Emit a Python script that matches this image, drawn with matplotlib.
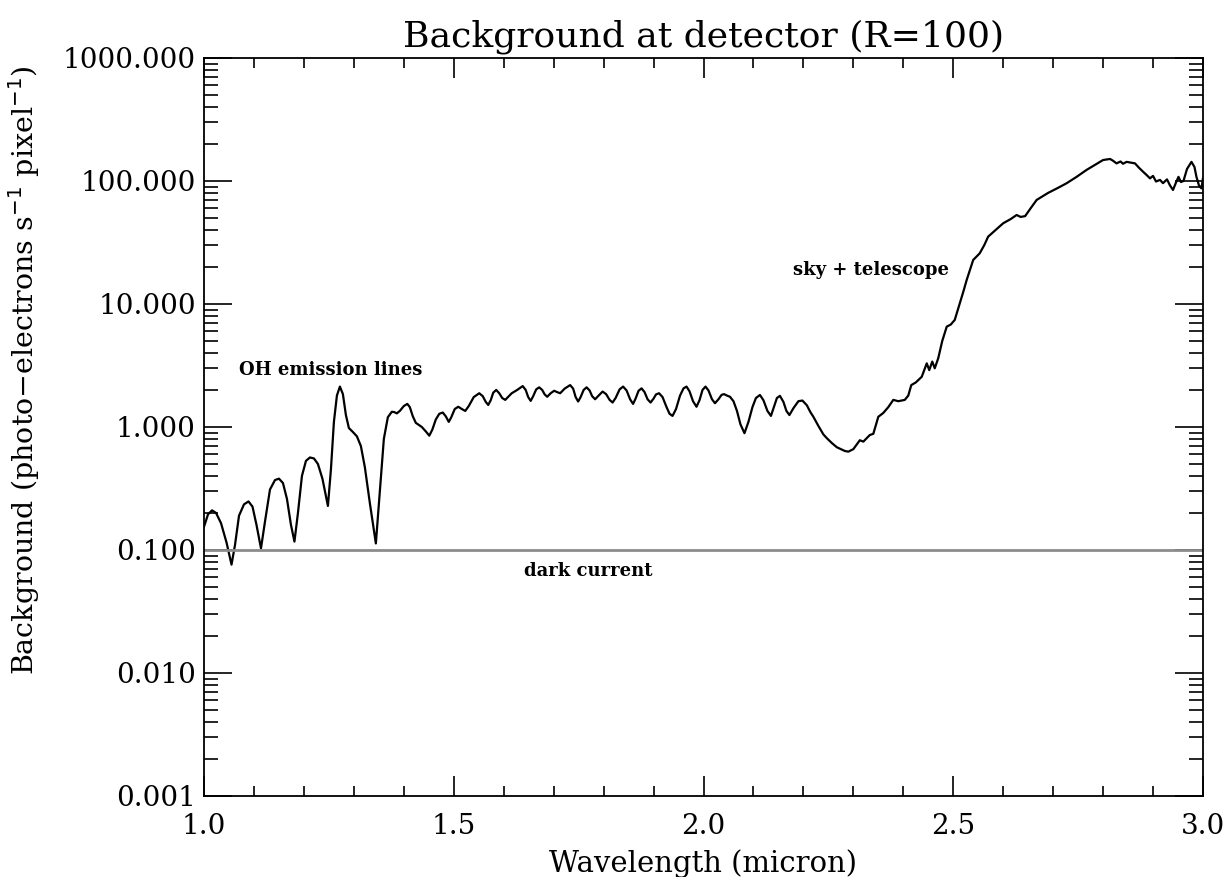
import numpy as np
import matplotlib
matplotlib.use("Agg")
import matplotlib.pyplot as plt
from matplotlib.ticker import FixedLocator, LogLocator, MultipleLocator, NullFormatter

# wavelength (micron) and background (photo-electrons / s / pixel)
wave = [1.000, 1.008, 1.016, 1.024, 1.034, 1.045, 1.055, 1.062, 1.070, 1.080,
        1.089, 1.097, 1.105, 1.114, 1.122, 1.132, 1.142, 1.150, 1.158, 1.166,
        1.174, 1.181, 1.188, 1.196, 1.204, 1.212, 1.220, 1.228, 1.237, 1.248,
        1.254, 1.260, 1.266, 1.272, 1.278, 1.284, 1.290, 1.298, 1.306, 1.314,
        1.322, 1.332, 1.344, 1.352, 1.360, 1.368, 1.376, 1.381, 1.386, 1.392,
        1.400, 1.407, 1.412, 1.418, 1.424, 1.430, 1.436, 1.444, 1.451, 1.457,
        1.464, 1.471, 1.478, 1.484, 1.490, 1.495, 1.502, 1.509, 1.516, 1.523,
        1.530, 1.540, 1.551, 1.558, 1.564, 1.569, 1.574, 1.579, 1.585, 1.591,
        1.597, 1.603, 1.609, 1.616, 1.627, 1.638, 1.644, 1.649, 1.654, 1.659,
        1.665, 1.671, 1.677, 1.682, 1.687, 1.694, 1.701, 1.707, 1.713, 1.722,
        1.733, 1.739, 1.744, 1.749, 1.754, 1.760, 1.766, 1.772, 1.777, 1.783,
        1.790, 1.798, 1.805, 1.812, 1.818, 1.824, 1.832, 1.839, 1.846, 1.853,
        1.859, 1.864, 1.870, 1.876, 1.882, 1.888, 1.894, 1.900, 1.905, 1.911,
        1.918, 1.926, 1.932, 1.938, 1.945, 1.953, 1.960, 1.966, 1.972, 1.979,
        1.986, 1.992, 1.998, 2.004, 2.010, 2.017, 2.023, 2.030, 2.036, 2.041,
        2.047, 2.053, 2.060, 2.067, 2.074, 2.082, 2.090, 2.098, 2.105, 2.113,
        2.120, 2.128, 2.135, 2.141, 2.147, 2.153, 2.160, 2.166, 2.172, 2.180,
        2.190, 2.198, 2.207, 2.214, 2.220, 2.230, 2.240, 2.247, 2.257, 2.267,
        2.275, 2.283, 2.290, 2.300, 2.313, 2.320, 2.333, 2.340, 2.350, 2.360,
        2.370, 2.380, 2.390, 2.403, 2.410, 2.416, 2.425, 2.437, 2.442, 2.447,
        2.452, 2.458, 2.463, 2.470, 2.478, 2.487, 2.495, 2.503, 2.513, 2.520,
        2.527, 2.540, 2.553, 2.562, 2.570, 2.585, 2.600, 2.615, 2.627, 2.635,
        2.644, 2.655, 2.667, 2.690, 2.710, 2.727, 2.747, 2.767, 2.785, 2.800,
        2.814, 2.820, 2.827, 2.835, 2.840, 2.847, 2.855, 2.864, 2.872, 2.880,
        2.887, 2.894, 2.900, 2.906, 2.914, 2.920, 2.928, 2.934, 2.940, 2.946,
        2.951, 2.956, 2.961, 2.968, 2.977, 2.983, 2.987, 2.992, 2.997, 3.000]
bkg = [0.155, 0.195, 0.21, 0.20, 0.165, 0.115, 0.076, 0.11, 0.19, 0.235,
       0.248, 0.225, 0.16, 0.103, 0.17, 0.31, 0.37, 0.38, 0.35, 0.26,
       0.16, 0.117, 0.2, 0.4, 0.53, 0.565, 0.555, 0.5, 0.38, 0.228,
       0.45, 1.1, 1.8, 2.13, 1.85, 1.25, 0.98, 0.91, 0.84, 0.7,
       0.47, 0.24, 0.113, 0.3, 0.8, 1.2, 1.33, 1.32, 1.29, 1.35,
       1.48, 1.54, 1.45, 1.22, 1.08, 1.04, 1.0, 0.92, 0.85, 0.95,
       1.15, 1.28, 1.31, 1.22, 1.10, 1.20, 1.40, 1.46, 1.40, 1.35,
       1.48, 1.75, 1.88, 1.78, 1.60, 1.51, 1.65, 1.90, 2.0, 1.88,
       1.72, 1.66, 1.76, 1.88, 2.0, 2.15, 2.0, 1.75, 1.63, 1.78,
       2.02, 2.10, 2.0, 1.84, 1.76, 1.88, 1.97, 1.92, 1.88, 2.05,
       2.19, 2.05, 1.75, 1.61, 1.75, 2.0, 2.10, 1.98, 1.78, 1.68,
       1.80, 1.94, 1.85, 1.66, 1.58, 1.72, 2.02, 2.13, 1.98, 1.68,
       1.54, 1.70, 1.97, 2.06, 1.92, 1.68, 1.58, 1.70, 1.84, 1.88,
       1.75, 1.45, 1.28, 1.23, 1.40, 1.80, 2.06, 2.13, 1.95, 1.62,
       1.46, 1.65, 2.00, 2.13, 1.98, 1.68, 1.56, 1.68, 1.82, 1.85,
       1.80, 1.76, 1.62, 1.35, 1.05, 0.89, 1.10, 1.45, 1.72, 1.82,
       1.65, 1.35, 1.23, 1.45, 1.72, 1.79, 1.60, 1.35, 1.25, 1.42,
       1.62, 1.64, 1.50, 1.32, 1.21, 1.02, 0.87, 0.81, 0.74, 0.684,
       0.66, 0.638, 0.63, 0.66, 0.78, 0.76, 0.86, 0.88, 1.21, 1.3,
       1.45, 1.66, 1.62, 1.66, 1.8, 2.19, 2.3, 2.56, 2.9, 3.29,
       2.9, 3.4, 3.0, 3.62, 5.0, 6.54, 6.8, 7.41, 10.1, 12.5,
       15.7, 22.8, 25.8, 30.0, 35.3, 40.0, 45.3, 49.0, 52.9, 51.0,
       51.8, 60.0, 70.1, 80.0, 88.0, 95.8, 108.0, 123.0, 136.0, 148.0,
       151.0, 146.0, 139.0, 144.0, 138.0, 143.0, 141.0, 139.0, 128.0, 119.0,
       112.0, 105.0, 110.0, 99.0, 102.0, 96.0, 103.0, 92.0, 84.5, 97.0,
       108.0, 98.0, 100.0, 125.0, 143.0, 130.0, 108.0, 92.0, 87.0, 105.0]

dark_wave = [1.0, 3.0]
dark_level = [0.1, 0.1]

ytick_vals = [0.001, 0.01, 0.1, 1.0, 10.0, 100.0, 1000.0]
ytick_labels = ["0.001", "0.010", "0.100", "1.000", "10.000", "100.000", "1000.000"]

plt.rcParams['font.family'] = ['DejaVu Serif']

fig = plt.figure(figsize=(12.27, 8.77), dpi=100)
ax = fig.add_axes([0.1663, 0.0924, 0.8141, 0.8415])

ax.plot(wave, bkg, color='black', lw=1.6)
ax.plot(dark_wave, dark_level, color='#8c8c8c', lw=2.0)

ax.set_yscale('log')
ax.set_xlim(1.0, 3.0)
ax.set_ylim(0.001, 1000)

ax.xaxis.set_major_locator(MultipleLocator(0.5))
ax.xaxis.set_minor_locator(MultipleLocator(0.1))
ax.xaxis.set_major_formatter(matplotlib.ticker.FormatStrFormatter('%.1f'))
ax.yaxis.set_major_locator(FixedLocator(ytick_vals))
ax.set_yticklabels(ytick_labels)
ax.yaxis.set_minor_locator(LogLocator(base=10, subs=np.arange(2, 10)))
ax.yaxis.set_minor_formatter(NullFormatter())

ax.tick_params(axis='x', which='major', direction='in', length=14.5, width=1.2,
               top=True, labelsize=20, pad=12)
ax.tick_params(axis='x', which='minor', direction='in', length=7.5, width=1.2, top=True)
ax.tick_params(axis='y', which='major', direction='in', length=20, width=1.2,
               right=True, labelsize=20, pad=6)
ax.tick_params(axis='y', which='minor', direction='in', length=10, width=1.2, right=True)
for s in ax.spines.values():
    s.set_linewidth(1.3)

ax.set_title("Background at detector (R=100)", fontsize=26, pad=8)
ax.set_xlabel("Wavelength (micron)", fontsize=21)
ax.xaxis.set_label_coords(0.4995, -0.072)
ax.set_ylabel(r"Background (photo$-$electrons s$^{-1}$ pixel$^{-1}$)", fontsize=20.5)
ax.yaxis.set_label_coords(-0.162, 0.577)

ax.text(1.07, 2.9, "OH emission lines", fontsize=13, fontweight='bold', ha='left', va='center')
ax.text(2.18, 19.0, "sky + telescope", fontsize=13, fontweight='bold', ha='left', va='center')
ax.text(1.64, 0.067, "dark current", fontsize=13, fontweight='bold', ha='left', va='center')

fig.savefig("out.png", dpi=100)
